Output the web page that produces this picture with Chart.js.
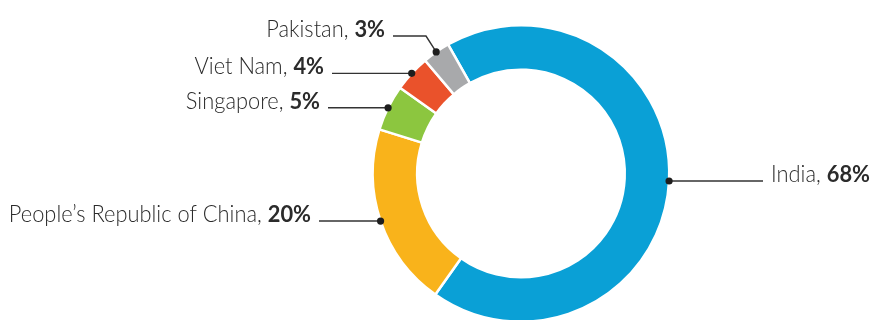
<!DOCTYPE html>
<html>
<head>
<meta charset="utf-8">
<script src="https://cdn.jsdelivr.net/npm/chart.js@4.4.1/dist/chart.umd.min.js"></script>
<style>
  html, body { margin: 0; padding: 0; background: #fff; overflow: hidden; }
  #wrap { width: 871px; height: 330px; }
</style>
</head>
<body>
<div id="wrap"><canvas id="shareChart" width="871" height="330"></canvas></div>
<script>
// economies and their shares (%)
const economies = ['India', 'People\u2019s Republic of China', 'Singapore', 'Viet Nam', 'Pakistan'];
const shares = [68, 20, 5, 4, 3];
const sliceColors = ['#0aa0d6', '#f9b31b', '#8cc63f', '#ea522b', '#a8a9ab'];

// where each callout goes: side of the ring, x where the leader stops, optional text line y and bend
const callouts = [
  { side: 'right', lineX: 763 },
  { side: 'left', lineX: 319 },
  { side: 'left', lineX: 328 },
  { side: 'left', lineX: 332 },
  { side: 'left', lineX: 393, y: 36, bendX: 426 }
];

const FONT_SIZE = 23;
const SQUEEZE = 0.95; // slightly narrower letterforms
const FAMILY = 'Lato, "Open Sans", sans-serif';
const INK = '#2b2b2b';

const calloutPlugin = {
  id: 'callouts',
  afterDraw(chart) {
    const ctx = chart.ctx;
    const arcs = chart.getDatasetMeta(0).data;
    ctx.save();
    arcs.forEach((arc, i) => {
      const p = arc.getProps(['x', 'y', 'startAngle', 'endAngle', 'outerRadius']);
      const mid = (p.startAngle + p.endAngle) / 2;
      const dx = p.x + Math.cos(mid) * p.outerRadius;
      const dy = p.y + Math.sin(mid) * p.outerRadius;
      const c = callouts[i];
      const ty = c.y !== undefined ? c.y : dy;

      // leader line
      ctx.strokeStyle = '#333';
      ctx.lineWidth = 1.4;
      ctx.beginPath();
      ctx.moveTo(dx, dy);
      if (c.bendX !== undefined) ctx.lineTo(c.bendX, ty);
      ctx.lineTo(c.lineX, ty);
      ctx.stroke();

      // dot on the ring
      ctx.fillStyle = '#1e1e1e';
      ctx.beginPath();
      ctx.arc(dx, dy, 3.6, 0, Math.PI * 2);
      ctx.fill();

      // label: light name, bold value
      const name = economies[i] + ', ';
      const pct = shares[i] + '%';
      const light = '300 ' + FONT_SIZE + 'px ' + FAMILY;
      const bold = '700 ' + FONT_SIZE + 'px ' + FAMILY;
      ctx.font = light;
      const wName = ctx.measureText(name).width;
      ctx.font = bold;
      const wPct = ctx.measureText(pct).width;
      const total = (wName + wPct) * SQUEEZE;
      const gap = 8;
      const x0 = c.side === 'right' ? c.lineX + gap : c.lineX - gap - total;

      ctx.save();
      ctx.translate(x0, ty + 1);
      ctx.scale(SQUEEZE, 1);
      ctx.textBaseline = 'alphabetic';
      ctx.textAlign = 'left';
      ctx.fillStyle = INK;
      ctx.font = light;
      ctx.fillText(name, 0, 0);
      ctx.font = bold;
      ctx.fillText(pct, wName, 0);
      ctx.restore();
    });
    ctx.restore();
  }
};

new Chart(document.getElementById('shareChart'), {
  type: 'doughnut',
  data: {
    labels: economies,
    datasets: [{
      data: shares,
      backgroundColor: sliceColors,
      borderColor: '#ffffff',
      borderWidth: 2.5
    }]
  },
  options: {
    responsive: false,
    animation: false,
    rotation: -29.5,
    cutout: '70%',
    layout: { padding: { left: 371.5, right: 200.5, top: 24, bottom: 7 } },
    plugins: {
      legend: { display: false },
      tooltip: { enabled: false }
    }
  },
  plugins: [calloutPlugin]
});
</script>
</body>
</html>
